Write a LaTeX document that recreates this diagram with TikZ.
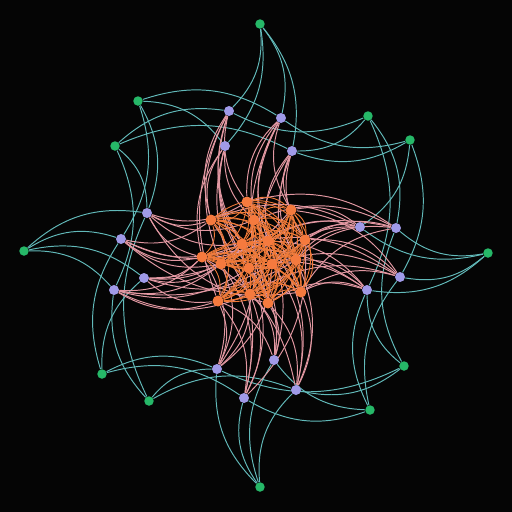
\documentclass[tikz,border=0pt]{standalone}
\usetikzlibrary{backgrounds}

\definecolor{bgblack}{RGB}{5,5,5}
\definecolor{coreorange}{RGB}{245,122,62}
\definecolor{ringpurple}{RGB}{160,154,232}
\definecolor{leafgreen}{RGB}{38,184,104}
\definecolor{coreedge}{RGB}{240,122,56}
\definecolor{pinkedge}{RGB}{226,152,162}
\definecolor{cyanedge}{RGB}{98,186,186}

\pgfdeclarelayer{backdrop}
\pgfsetlayers{backdrop,background,main}

\begin{document}
\begin{tikzpicture}[
    x=0.02cm, y=-0.02cm,
    % Nodes
    core/.style={circle, fill=coreorange, inner sep=0pt, minimum size=0.22cm},
    ring/.style={circle, fill=ringpurple, inner sep=0pt, minimum size=0.2cm},
    leaf/.style={circle, fill=leafgreen, inner sep=0pt, minimum size=0.19cm},
    % Links
    corelink/.style={draw=coreedge, line width=0.5pt, bend left=32},
    ringlink/.style={draw=pinkedge, line width=0.55pt, bend right=24},
    leaflink/.style={draw=cyanedge, line width=0.55pt, bend left=25}
]

% Backdrop
\begin{pgfonlayer}{backdrop}
\fill[bgblack] (0,0) rectangle (512,512);
\end{pgfonlayer}

% Core cluster
\node[core] (o1) at (247,202) {};
\node[core] (o2) at (211,220) {};
\node[core] (o3) at (254,220) {};
\node[core] (o4) at (291,210) {};
\node[core] (o5) at (242,244) {};
\node[core] (o6) at (268,241) {};
\node[core] (o7) at (305,240) {};
\node[core] (o8) at (202,257) {};
\node[core] (o9) at (221,264) {};
\node[core] (o10) at (249,268) {};
\node[core] (o11) at (272,264) {};
\node[core] (o12) at (296,260) {};
\node[core] (o13) at (218,301) {};
\node[core] (o14) at (250,294) {};
\node[core] (o15) at (268,303) {};
\node[core] (o16) at (301,292) {};

% Ring (four groups)
\node[ring] (p1) at (229,111) {};
\node[ring] (p2) at (281,118) {};
\node[ring] (p3) at (225,146) {};
\node[ring] (p4) at (292,151) {};
\node[ring] (p5) at (360,227) {};
\node[ring] (p6) at (396,228) {};
\node[ring] (p7) at (400,277) {};
\node[ring] (p8) at (367,290) {};
\node[ring] (p9) at (274,360) {};
\node[ring] (p10) at (296,390) {};
\node[ring] (p11) at (244,398) {};
\node[ring] (p12) at (217,369) {};
\node[ring] (p13) at (144,278) {};
\node[ring] (p14) at (114,290) {};
\node[ring] (p15) at (121,239) {};
\node[ring] (p16) at (147,213) {};

% Leaves
\node[leaf] (g1) at (260,24) {};
\node[leaf] (g2) at (368,116) {};
\node[leaf] (g3) at (410,140) {};
\node[leaf] (g4) at (488,253) {};
\node[leaf] (g5) at (404,366) {};
\node[leaf] (g6) at (370,410) {};
\node[leaf] (g7) at (260,487) {};
\node[leaf] (g8) at (149,401) {};
\node[leaf] (g9) at (102,374) {};
\node[leaf] (g10) at (24,251) {};
\node[leaf] (g11) at (115,146) {};
\node[leaf] (g12) at (138,101) {};

\begin{pgfonlayer}{background}
% Leaf -- ring
\path[leaflink] (g1) edge (p1) edge (p2) edge (p3) edge (p4);
\path[leaflink] (g2) edge (p1) edge (p4) edge (p6) edge (p8);
\path[leaflink] (g3) edge (p2) edge (p4) edge (p5) edge (p7);
\path[leaflink] (g4) edge (p5) edge (p6) edge (p7) edge (p8);
\path[leaflink] (g5) edge (p6) edge (p8) edge (p10) edge (p12);
\path[leaflink] (g6) edge (p7) edge (p8) edge (p9) edge (p11);
\path[leaflink] (g7) edge (p9) edge (p10) edge (p11) edge (p12);
\path[leaflink] (g8) edge (p10) edge (p12) edge (p14) edge (p16);
\path[leaflink] (g9) edge (p11) edge (p12) edge (p13) edge (p15);
\path[leaflink] (g10) edge (p13) edge (p14) edge (p15) edge (p16);
\path[leaflink] (g11) edge (p14) edge (p16) edge (p1) edge (p4);
\path[leaflink] (g12) edge (p15) edge (p16) edge (p2) edge (p3);

% Ring -- core
\path[ringlink] (p1) edge (o1) edge (o2) edge (o5) edge (o9) edge (o13) edge (o10);
\path[ringlink] (p2) edge (o3) edge (o4) edge (o6) edge (o11) edge (o15) edge (o1);
\path[ringlink] (p3) edge (o2) edge (o5) edge (o8) edge (o10) edge (o14) edge (o3);
\path[ringlink] (p4) edge (o4) edge (o7) edge (o12) edge (o16) edge (o6) edge (o15);
\path[ringlink] (p5) edge (o4) edge (o7) edge (o6) edge (o12) edge (o2) edge (o11);
\path[ringlink] (p6) edge (o1) edge (o3) edge (o7) edge (o12) edge (o16) edge (o9);
\path[ringlink] (p7) edge (o7) edge (o16) edge (o11) edge (o14) edge (o5) edge (o4);
\path[ringlink] (p8) edge (o12) edge (o16) edge (o15) edge (o10) edge (o8) edge (o6);
\path[ringlink] (p9) edge (o14) edge (o15) edge (o13) edge (o10) edge (o5) edge (o3);
\path[ringlink] (p10) edge (o16) edge (o15) edge (o11) edge (o12) edge (o8) edge (o6);
\path[ringlink] (p11) edge (o13) edge (o14) edge (o9) edge (o10) edge (o7) edge (o2);
\path[ringlink] (p12) edge (o13) edge (o9) edge (o8) edge (o14) edge (o11) edge (o1);
\path[ringlink] (p13) edge (o8) edge (o9) edge (o13) edge (o5) edge (o12) edge (o4);
\path[ringlink] (p14) edge (o8) edge (o13) edge (o9) edge (o14) edge (o7) edge (o10);
\path[ringlink] (p15) edge (o2) edge (o8) edge (o5) edge (o9) edge (o6) edge (o16);
\path[ringlink] (p16) edge (o1) edge (o2) edge (o8) edge (o5) edge (o15) edge (o3);

% Core -- core
\path[corelink] (o1) edge (o2) edge (o3) edge (o4) edge (o5) edge (o6) edge (o7) edge (o8) edge (o9) edge (o10) edge (o11) edge (o12) edge (o13) edge (o14) edge (o15) edge (o16);
\path[corelink] (o2) edge (o3) edge (o4) edge (o5) edge (o6) edge (o7) edge (o8) edge (o9) edge (o10) edge (o11) edge (o12) edge (o13) edge (o14) edge (o15) edge (o16);
\path[corelink] (o3) edge (o4) edge (o5) edge (o6) edge (o7) edge (o8) edge (o9) edge (o10) edge (o11) edge (o12) edge (o13) edge (o14) edge (o16);
\path[corelink] (o4) edge (o5) edge (o6) edge (o7) edge (o8) edge (o9) edge (o10) edge (o11) edge (o12) edge (o13) edge (o14) edge (o15) edge (o16);
\path[corelink] (o5) edge (o6) edge (o7) edge (o8) edge (o9) edge (o10) edge (o11) edge (o12) edge (o13) edge (o15) edge (o16);
\path[corelink] (o6) edge (o7) edge (o8) edge (o9) edge (o10) edge (o11) edge (o12) edge (o13) edge (o14) edge (o15) edge (o16);
\path[corelink] (o7) edge (o8) edge (o9) edge (o10) edge (o11) edge (o12) edge (o13) edge (o14) edge (o15) edge (o16);
\path[corelink] (o8) edge (o9) edge (o10) edge (o11) edge (o12) edge (o13) edge (o14) edge (o15) edge (o16);
\path[corelink] (o9) edge (o10) edge (o11) edge (o12) edge (o13) edge (o14) edge (o15) edge (o16);
\path[corelink] (o10) edge (o11) edge (o12) edge (o13) edge (o14) edge (o15) edge (o16);
\path[corelink] (o11) edge (o12) edge (o13) edge (o14) edge (o15) edge (o16);
\path[corelink] (o12) edge (o13) edge (o14) edge (o15) edge (o16);
\path[corelink] (o13) edge (o14) edge (o15) edge (o16);
\path[corelink] (o14) edge (o15) edge (o16);
\path[corelink] (o15) edge (o16);
\end{pgfonlayer}

\end{tikzpicture}
\end{document}
